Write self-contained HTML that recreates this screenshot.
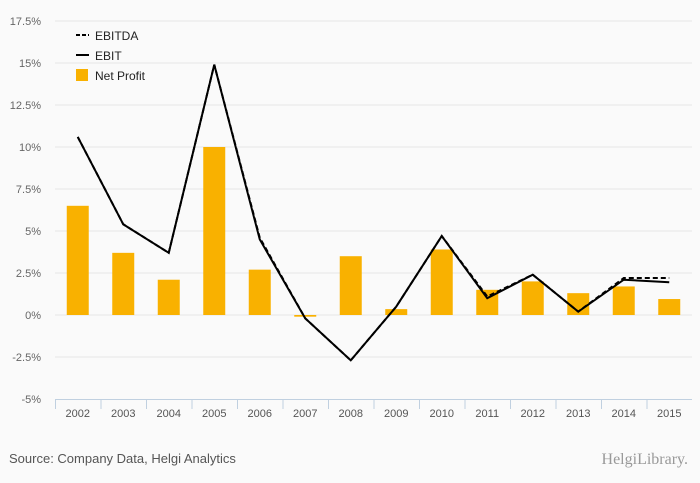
<!DOCTYPE html>
<html><head><meta charset="utf-8"><style>
body{margin:0;background:#fafafa;}
svg{display:block;font-family:"Liberation Sans",sans-serif;}
</style></head><body>
<svg id="c" width="700" height="483">
<rect width="700" height="483" fill="#fafafa"/>
<g id="grid"></g><g id="bars"></g><g id="lines"></g><g id="axis"></g>
<g>
<line x1="76" y1="35" x2="89" y2="35" stroke="#000" stroke-width="2" stroke-dasharray="4,2"/>
<text x="95" y="40" font-size="12" fill="#222">EBITDA</text>
<line x1="76" y1="55" x2="89" y2="55" stroke="#000" stroke-width="2"/>
<text x="95" y="60" font-size="12" fill="#222">EBIT</text>
<rect x="76" y="69" width="12" height="12" fill="#f9b100"/>
<text x="95" y="80" font-size="12" fill="#222">Net Profit</text>
</g>
<text x="9" y="463" font-size="13" fill="#555">Source: Company Data, Helgi Analytics</text>
<text x="688" y="464" font-size="16" fill="#999" text-anchor="end" font-family="Liberation Serif,serif">HelgiLibrary.</text>
</svg>
<script>
const categories=["2002","2003","2004","2005","2006","2007","2008","2009","2010","2011","2012","2013","2014","2015"];
const netProfit=[6.5,3.7,2.1,10.0,2.7,-0.1,3.5,0.35,3.9,1.5,2.0,1.3,1.7,0.95];
const ebit=[10.6,5.4,3.7,14.9,4.5,-0.2,-2.7,0.5,4.7,1.0,2.4,0.2,2.1,1.95];
const ebitda=[10.6,5.4,3.7,14.9,4.6,-0.2,-2.7,0.5,4.7,1.1,2.4,0.2,2.2,2.2];
const ticks=[-5,-2.5,0,2.5,5,7.5,10,12.5,15,17.5];
const tickLabels=["-5%","-2.5%","0%","2.5%","5%","7.5%","10%","12.5%","15%","17.5%"];
const NS="http://www.w3.org/2000/svg";
const L=55,R=692,T=21,B=399,ymin=-5,ymax=17.5;
const bw=(R-L)/categories.length;
const x=i=>L+bw*(i+0.5);
const y=v=>B-(v-ymin)/(ymax-ymin)*(B-T);
function mk(tag,attrs,parent){const e=document.createElementNS(NS,tag);for(const k in attrs)e.setAttribute(k,attrs[k]);document.getElementById(parent).appendChild(e);return e;}
ticks.forEach((t,i)=>{
 if(t!==ymin){const g=mk("line",{x1:L,x2:R,y1:y(t),y2:y(t),stroke:"#e6e6e6","stroke-width":1},"grid");
 
 }
 const tx=mk("text",{x:41,y:y(t)+4,"font-size":11,fill:"#666","text-anchor":"end"},"axis");
 tx.textContent=tickLabels[i];
 
 
});
const ax=mk("line",{x1:L,x2:R,y1:B+0.5,y2:B+0.5,stroke:"#c0d0e0"},"axis");


categories.forEach((c,i)=>{
 const tk=mk("line",{x1:L+bw*i+0.5,x2:L+bw*i+0.5,y1:B,y2:B+10,stroke:"#c0d0e0"},"axis");
 
 
 const t=mk("text",{x:x(i),y:B+18,"font-size":11,fill:"#555","text-anchor":"middle"},"axis");
 t.textContent=c;
 
 
 const v=netProfit[i];
 const r=mk("rect",{x:x(i)-11,width:22,y:Math.min(y(v),y(0)),height:Math.max(Math.abs(y(v)-y(0)),1),fill:"#f9b100"},"bars");
 
 
});
const pts=a=>a.map((v,i)=>x(i)+","+y(v)).join(" ");
const l1=mk("polyline",{points:pts(ebitda),fill:"none",stroke:"#000","stroke-width":2,"stroke-dasharray":"5,3"},"lines");


const l2=mk("polyline",{points:pts(ebit),fill:"none",stroke:"#000","stroke-width":2},"lines");


</script>
</body></html>
